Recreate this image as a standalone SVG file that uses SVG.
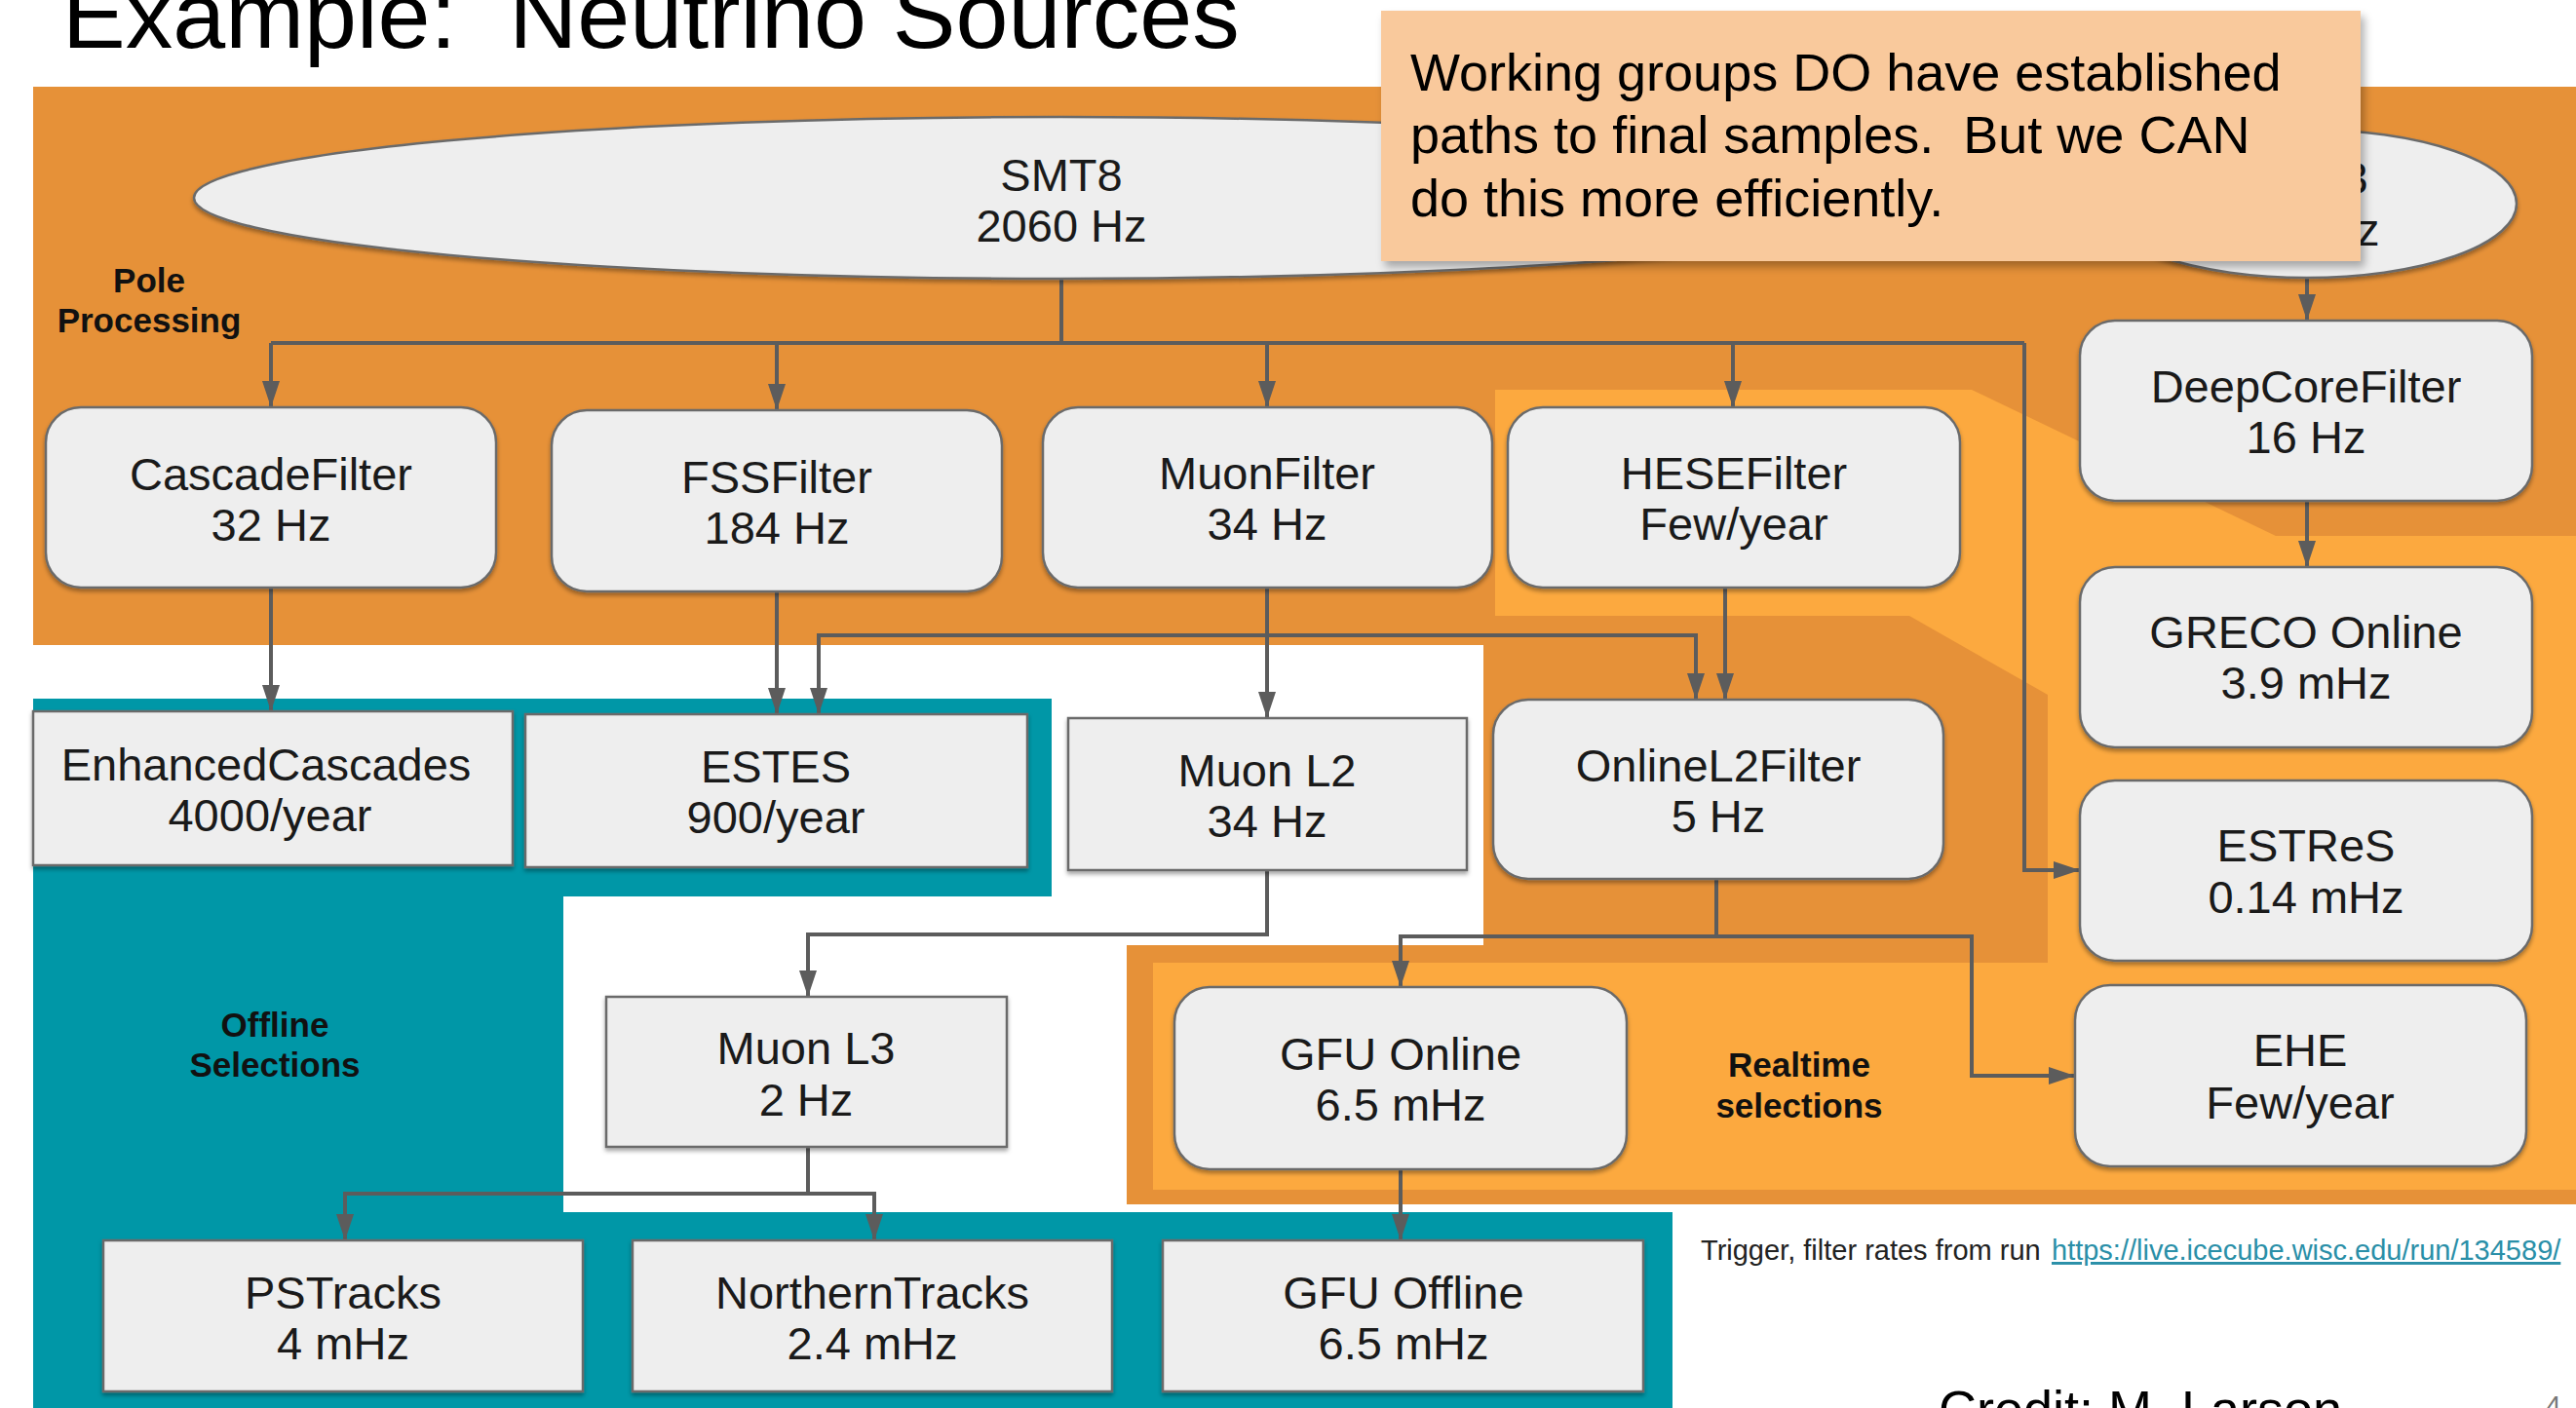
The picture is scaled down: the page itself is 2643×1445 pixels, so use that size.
<svg xmlns="http://www.w3.org/2000/svg" width="2643" height="1445" viewBox="0 0 2643 1445">
<defs>
<style>
text{font-family:"Liberation Sans",Arial,Helvetica,sans-serif;}
.t{font-size:47px;fill:#1a1a1a;text-anchor:middle;}
.lbl{font-size:35px;font-weight:bold;fill:#111111;text-anchor:middle;}
.box{fill:#eeeeee;stroke:#6b6b6b;stroke-width:2.5;filter:url(#sh);}
.conn{fill:none;stroke:#5c5c5c;stroke-width:4;}
.arr{marker-end:url(#ah);}
.dark{fill:#e69138;}
.light{fill:#fca93f;}
.teal{fill:#0097a7;}
</style>
<filter id="sh" x="-5%" y="-5%" width="110%" height="115%"><feDropShadow dx="0" dy="3" stdDeviation="2" flood-color="#000000" flood-opacity="0.35"/></filter>
<filter id="nsh" x="-5%" y="-5%" width="110%" height="120%"><feDropShadow dx="4" dy="6" stdDeviation="4" flood-color="#000000" flood-opacity="0.3"/></filter>
<marker id="ah" viewBox="0 0 15 10" refX="15" refY="5" markerWidth="27" markerHeight="18" markerUnits="userSpaceOnUse" orient="auto"><path d="M0,0 L15,5 L0,10 z" fill="#5c5c5c"/></marker>
</defs>
<rect x="0" y="0" width="2643" height="1445" fill="#ffffff"/>
<text x="64" y="49" font-size="97" fill="#000000" xml:space="preserve">Example:  Neutrino Sources</text>

<g id="regions">
<polygon class="dark" points="34,89 2643,89 2643,1236 1156,1236 1156,970 1522,970 1522,662 34,662"/>
<polygon class="light" points="1534,400 2023,400 2335,550 2643,550 2643,1221 1183,1221 1183,988 2101,988 2101,713 1959,632 1534,632"/>
<polygon class="teal" points="34,717 1079,717 1079,920 578,920 578,1244 1716,1244 1716,1445 34,1445"/>
</g>

<g id="connectors">
<path class="conn" d="M1089,287 V352"/>
<path class="conn" d="M278,352 H2077"/>
<path class="conn arr" d="M278,352 V418"/>
<path class="conn arr" d="M797,352 V421"/>
<path class="conn arr" d="M1300,352 V418"/>
<path class="conn arr" d="M1778,352 V418"/>
<path class="conn arr" d="M2077,352 V893 H2134"/>
<path class="conn arr" d="M2367,285 V329"/>
<path class="conn arr" d="M2367,514 V582"/>
<path class="conn arr" d="M278,603 V730"/>
<path class="conn arr" d="M797,607 V733"/>
<path class="conn arr" d="M1300,603 V737"/>
<path class="conn arr" d="M1300,652 H840 V733"/>
<path class="conn arr" d="M1300,652 H1740 V718"/>
<path class="conn arr" d="M1770,603 V718"/>
<path class="conn arr" d="M1300,893 V959 H829 V1023"/>
<path class="conn arr" d="M829,1177 V1225 H354 V1273"/>
<path class="conn arr" d="M829,1225 H897 V1273"/>
<path class="conn arr" d="M1761,902 V961 H1437 V1013"/>
<path class="conn arr" d="M1761,961 H2023 V1104 H2129"/>
<path class="conn arr" d="M1437,1200 V1273"/>
</g>

<g id="smt8">
<ellipse class="box" cx="1089" cy="203" rx="890" ry="83"/>
<text class="t" x="1089" y="196">SMT8</text>
<text class="t" x="1089" y="248">2060 Hz</text>
</g>
<g id="smt3">
<ellipse class="box" cx="2367" cy="209" rx="215" ry="76"/>
<text class="t" x="2367" y="199">SMT3</text>
<text class="t" x="2367" y="252">250 Hz</text>
</g>

<g id="cascadefilter">
<rect class="box" x="47" y="418" width="462" height="185" rx="36"/>
<text class="t" x="278" y="503">CascadeFilter</text>
<text class="t" x="278" y="555">32 Hz</text>
</g>
<g id="fssfilter">
<rect class="box" x="566" y="421" width="462" height="186" rx="36"/>
<text class="t" x="797" y="506">FSSFilter</text>
<text class="t" x="797" y="558">184 Hz</text>
</g>
<g id="muonfilter">
<rect class="box" x="1070" y="418" width="461" height="185" rx="36"/>
<text class="t" x="1300" y="502">MuonFilter</text>
<text class="t" x="1300" y="554">34 Hz</text>
</g>
<g id="hesefilter">
<rect class="box" x="1547" y="418" width="464" height="185" rx="36"/>
<text class="t" x="1779" y="502">HESEFilter</text>
<text class="t" x="1779" y="554">Few/year</text>
</g>
<g id="deepcorefilter">
<rect class="box" x="2134" y="329" width="464" height="185" rx="36"/>
<text class="t" x="2366" y="413">DeepCoreFilter</text>
<text class="t" x="2366" y="465">16 Hz</text>
</g>
<g id="greco">
<rect class="box" x="2134" y="582" width="464" height="185" rx="36"/>
<text class="t" x="2366" y="665">GRECO Online</text>
<text class="t" x="2366" y="717">3.9 mHz</text>
</g>
<g id="estres">
<rect class="box" x="2134" y="801" width="464" height="185" rx="36"/>
<text class="t" x="2366" y="884">ESTReS</text>
<text class="t" x="2366" y="937">0.14 mHz</text>
</g>
<g id="ehe">
<rect class="box" x="2129" y="1011" width="463" height="186" rx="36"/>
<text class="t" x="2360" y="1094">EHE</text>
<text class="t" x="2360" y="1148">Few/year</text>
</g>
<g id="onlinel2filter">
<rect class="box" x="1532" y="718" width="462" height="184" rx="36"/>
<text class="t" x="1763" y="802">OnlineL2Filter</text>
<text class="t" x="1763" y="854">5 Hz</text>
</g>
<g id="gfuonline">
<rect class="box" x="1205" y="1013" width="464" height="187" rx="36"/>
<text class="t" x="1437" y="1098">GFU Online</text>
<text class="t" x="1437" y="1150">6.5 mHz</text>
</g>
<g id="enhancedcascades">
<rect class="box" x="34" y="730" width="492" height="158"/>
<text class="t" x="273" y="801">EnhancedCascades</text>
<text class="t" x="277" y="853">4000/year</text>
</g>
<g id="estes">
<rect class="box" x="539" y="733" width="515" height="157"/>
<text class="t" x="796" y="803">ESTES</text>
<text class="t" x="796" y="855">900/year</text>
</g>
<g id="muonl2">
<rect class="box" x="1096" y="737" width="409" height="156"/>
<text class="t" x="1300" y="807">Muon L2</text>
<text class="t" x="1300" y="859">34 Hz</text>
</g>
<g id="muonl3">
<rect class="box" x="622" y="1023" width="411" height="154"/>
<text class="t" x="827" y="1092">Muon L3</text>
<text class="t" x="827" y="1145">2 Hz</text>
</g>
<g id="pstracks">
<rect class="box" x="106" y="1273" width="492" height="155"/>
<text class="t" x="352" y="1343">PSTracks</text>
<text class="t" x="352" y="1395">4 mHz</text>
</g>
<g id="northerntracks">
<rect class="box" x="649" y="1273" width="492" height="155"/>
<text class="t" x="895" y="1343">NorthernTracks</text>
<text class="t" x="895" y="1395">2.4 mHz</text>
</g>
<g id="gfuoffline">
<rect class="box" x="1193" y="1273" width="493" height="155"/>
<text class="t" x="1440" y="1343">GFU Offline</text>
<text class="t" x="1440" y="1395">6.5 mHz</text>
</g>

<g id="labels">
<text class="lbl" x="153" y="300">Pole</text>
<text class="lbl" x="153" y="341">Processing</text>
<text class="lbl" x="282" y="1064">Offline</text>
<text class="lbl" x="282" y="1105">Selections</text>
<text class="lbl" x="1846" y="1105">Realtime</text>
<text class="lbl" x="1846" y="1147">selections</text>
</g>

<g id="note">
<rect x="1417" y="11" width="1005" height="257" fill="#f9c99c" filter="url(#nsh)"/>
<text x="1447" y="93" font-size="54" fill="#000000">Working groups DO have established</text>
<text x="1447" y="157" font-size="54" fill="#000000" xml:space="preserve">paths to final samples.  But we CAN</text>
<text x="1447" y="222" font-size="54" fill="#000000">do this more efficiently.</text>
</g>

<g id="footer">
<text x="1745" y="1293" font-size="29" fill="#222222">Trigger, filter rates from run</text>
<text x="2105" y="1293" font-size="29" fill="#2a8fa8" text-decoration="underline">https://live.icecube.wisc.edu/run/134589/</text>
<text x="1989" y="1465" font-size="54" fill="#000000">Credit: M. Larson</text>
<text x="2612" y="1452" font-size="28" fill="#777777">4</text>
</g>
</svg>
